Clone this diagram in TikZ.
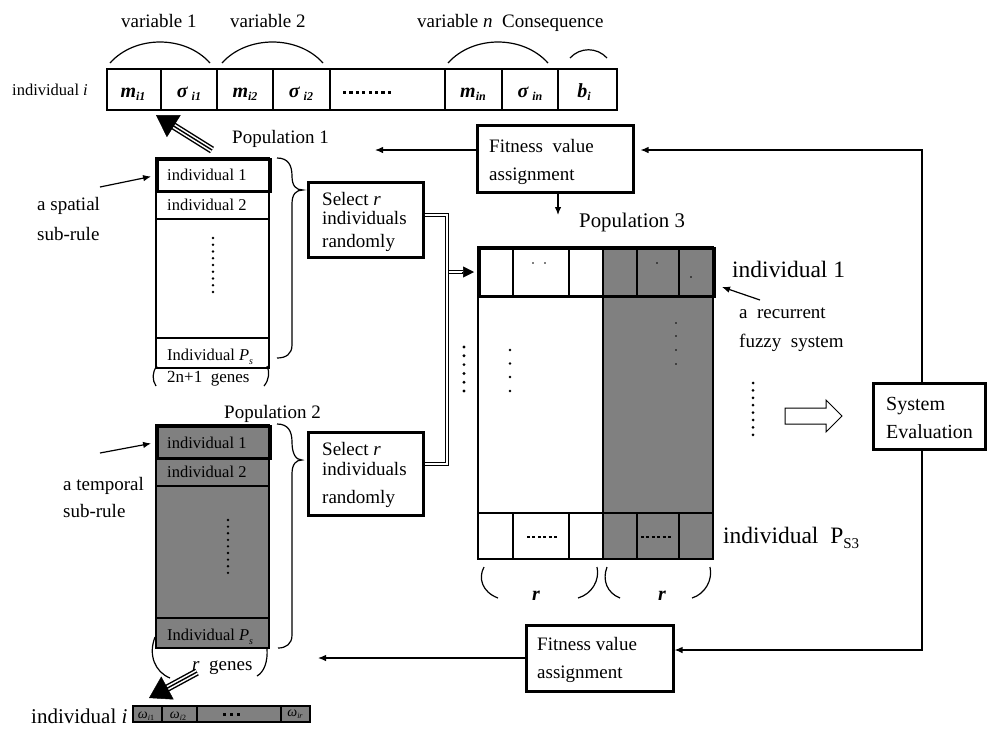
\documentclass[tikz,border=0pt]{standalone}
\usepackage{fontspec}
\setmainfont{Liberation Serif}
\usetikzlibrary{arrows.meta,calc}
\definecolor{popgray}{RGB}{128,128,128}
\newcommand{\fsz}[1]{\fontsize{#1}{#1}\selectfont}
\newcommand{\bit}[1]{{\bfseries\itshape #1}}
\newcommand{\lowsub}[2]{\raisebox{#1}{\fsz{12}\bfseries\itshape #2}}
\begin{document}
\begin{tikzpicture}[x=1pt,y=-1pt,
  lab/.style={anchor=base west,inner sep=0pt,font=\fsz{19}},
  cell/.style={anchor=base west,inner sep=0pt,font=\fsz{16.5}},
  gene/.style={anchor=base,inner sep=0pt,font=\fsz{20}},
  frame/.style={draw,line width=3pt,inner sep=0pt},
  plain/.style={line width=1.2pt},
  arr/.style={line width=1.2pt,-{Latex[length=8pt,width=6.5pt]}},
  dbl/.style={double,double distance=2.4pt,line width=0.9pt},
  bigtip/.style={line width=0.5pt,-{Triangle[length=21pt,width=26pt]}},
]
\useasboundingbox (0,0) rectangle (987,732);

% ---------- chromosome of one spatial sub-rule ----------
\node[lab] (var1) at (121,27) {variable 1};
\node[lab] (var2) at (230,27) {variable 2};
\node[lab] (varn) at (417,27) {variable \textit{n}\ \ Consequence};
\draw[plain] (110,63) .. controls (135,35) and (185,35) .. (210,63);
\draw[plain] (222,63) .. controls (247,35) and (298,35) .. (323,63);
\draw[plain] (448,63) .. controls (473,35) and (523,35) .. (548,63);
\draw[plain] (570,58) .. controls (580,47) and (597,47) .. (607,58);
\node[cell] (chromA) at (12,95) {individual \textit{i}};
\draw[plain] (107,69) rectangle (617,110);
\foreach \x in {161,217,273,330,445,502,558} \draw[plain] (\x,69) -- (\x,110);
\node[gene] (g1) at (133,97) {\bit{m}\lowsub{-3.5pt}{i1}};
\node[gene] (g2) at (189,97) {\bit{σ}\hspace{4pt}\lowsub{-3.5pt}{i1}};
\node[gene] (g3) at (245,97) {\bit{m}\lowsub{-3.5pt}{i2}};
\node[gene] (g4) at (301,97) {\bit{σ}\hspace{4pt}\lowsub{-3.5pt}{i2}};
\foreach \i in {0,...,7} \fill ({343+6.4*\i},91) rectangle ++(3.2,3.4);
\node[gene] (g5) at (473,97) {\bit{m}\lowsub{-3.5pt}{in}};
\node[gene] (g6) at (530,97) {\bit{σ}\hspace{4pt}\lowsub{-3.5pt}{in}};
\node[gene] (g7) at (584,97) {\bit{b}\lowsub{-3.5pt}{i}};

% ---------- population 1 (spatial sub-rules) ----------
\node[lab] (pop1) at (232,143) {Population 1};
\draw[plain] (156,158) rectangle (269,368);
\draw[plain] (156,219) -- (269,219);
\draw[plain] (156,338) -- (269,338);
\node[frame,minimum width=113pt,minimum height=32pt,anchor=north west] (p1i1) at (156,158) {};
\node[cell] (p1t1) at (167,180) {individual 1};
\node[cell] (p1t2) at (167,210) {individual 2};
\node[cell] (p1t3) at (167,360) {Individual \textit{P}\raisebox{-4pt}{\fsz{10}\itshape s}};
\foreach \i in {0,...,8} \fill (213,{238+6.75*\i}) circle (1.3);
\draw[plain] (157,366) .. controls (152,372) and (152,380) .. (156,386);
\draw[plain] (267,366) .. controls (270,372) and (269,380) .. (264,386);
\node[cell,font=\fsz{17}] (p1genes) at (167,382) {2n+1\ \ genes};
\draw[plain] (277,158) .. controls (288,158) and (292,165) .. (292,176)
  .. controls (292,186) and (296,190) .. (303,190)
  .. controls (296,190) and (292,194) .. (292,204) -- (292,345)
  .. controls (292,354) and (286,358) .. (277,358);
\node[lab] (sp1) at (37,210) {a spatial};
\node[lab] (sp2) at (37,240) {sub-rule};
\coordinate (spfrom) at (100,187);
\draw[arr,shorten >=5pt] (spfrom) -- (p1i1.west);

% triple-line arrow from population 1 to the chromosome
\coordinate (t1a) at (212,150);
\coordinate (t1b) at (156,115);
\draw[line width=7.5pt,shorten >=14pt] (t1a) -- (t1b);
\draw[white,line width=4.6pt,shorten >=13pt] (t1a) -- (t1b);
\draw[line width=1.4pt,shorten >=14pt] (t1a) -- (t1b);
\draw[bigtip] ($(t1a)!0.6!(t1b)$) -- (t1b);

% ---------- population 2 (temporal sub-rules) ----------
\node[lab] (pop2) at (224,418) {Population 2};
\fill[popgray] (156,425) rectangle (269,648);
\draw[plain] (156,425) rectangle (269,648);
\draw[plain] (156,486) -- (269,486);
\draw[plain] (156,618) -- (269,618);
\node[frame,minimum width=113pt,minimum height=32pt,anchor=north west] (p2i1) at (156,425) {};
\node[cell] (p2t1) at (167,448) {individual 1};
\node[cell] (p2t2) at (167,477) {individual 2};
\node[cell] (p2t3) at (167,640) {Individual \textit{P}\raisebox{-4pt}{\fsz{10}\itshape s}};
\foreach \i in {0,...,8} \fill (228,{520+6.6*\i}) circle (1.3);
\draw[plain] (277,424) .. controls (288,424) and (292,431) .. (292,442)
  .. controls (292,454) and (296,460) .. (302,460)
  .. controls (296,460) and (292,464) .. (292,474) -- (292,635)
  .. controls (292,644) and (286,648) .. (278,648);
\draw[plain] (155,637) .. controls (148,655) and (155,672) .. (170,678);
\draw[plain] (267,648) .. controls (268,662) and (264,672) .. (257,676);
\node[lab] (p2genes) at (192,670) {\textit{r}\ \ genes};
\node[lab] (tp1) at (63,490) {a temporal};
\node[lab] (tp2) at (63,517) {sub-rule};
\coordinate (tpfrom) at (100,453);
\draw[arr,shorten >=5pt] (tpfrom) -- (p2i1.west);

% triple-line arrow from population 2 to its chromosome
\coordinate (t2a) at (197,672);
\coordinate (t2b) at (149,698);
\draw[line width=7.5pt,shorten >=14pt] (t2a) -- (t2b);
\draw[white,line width=4.6pt,shorten >=13pt] (t2a) -- (t2b);
\draw[line width=1.4pt,shorten >=14pt] (t2a) -- (t2b);
\draw[bigtip] ($(t2a)!0.55!(t2b)$) -- (t2b);

% chromosome of one temporal sub-rule
\node[lab,font=\fsz{21}] (chromB) at (31,723) {individual \textit{i}};
\fill[popgray] (133,706) rectangle (310,722);
\draw[plain] (133,706) rectangle (310,722);
\foreach \x in {162,197,281} \draw[plain] (\x,706) -- (\x,722);
\node[anchor=base,inner sep=0pt,font=\fsz{14}] (w1) at (146,718) {\textit{ω}\raisebox{-2.5pt}{\fsz{8}\textit{i}1}};
\node[anchor=base,inner sep=0pt,font=\fsz{14}] (w2) at (178,718) {\textit{ω}\raisebox{-2.5pt}{\fsz{8}\textit{i}2}};
\foreach \i in {0,1,2} \fill ({223+7*\i},713) rectangle ++(2.6,2.6);
\node[anchor=base,inner sep=0pt,font=\fsz{14}] (wr) at (295,716) {\textit{ω}\raisebox{-2.5pt}{\fsz{8}\textit{ir}}};

% ---------- selection boxes ----------
\node[frame,minimum width=115pt,minimum height=75pt] (sel1) at (365.5,219.5) {};
\node[lab] (s1a) at (322,205) {Select \textit{r}};
\node[lab] (s1b) at (322,224) {individuals};
\node[lab] (s1c) at (322,247) {randomly};
\node[frame,minimum width=115pt,minimum height=83pt] (sel2) at (365.5,473.5) {};
\node[lab] (s2a) at (322,455) {Select \textit{r}};
\node[lab] (s2b) at (322,475) {individuals};
\node[lab] (s2c) at (322,503) {randomly};

% ---------- population 3 (recurrent fuzzy systems) ----------
\node[lab,font=\fsz{20.8}] (pop3) at (579,227) {Population 3};
\fill[popgray] (603,247) rectangle (713,559);
\draw[plain] (478,247) rectangle (713,559);
\draw[plain] (603,247) -- (603,559);
\draw[plain] (478,513) -- (713,513);
\foreach \x in {513,569,637,679} {
  \draw[plain] (\x,247) -- (\x,295);
  \draw[plain] (\x,513) -- (\x,559);
}
\node[frame,minimum width=235pt,minimum height=48pt,anchor=north west] (p3top) at (478,247) {};
\fill (533,263) circle (0.9) (545,263) circle (0.9) (657,263) circle (0.8) (691,277) circle (0.8);
\foreach \y in {350,363.5,377,391} \fill (510,\y) circle (1.4);
\foreach \y in {323,336,350,364} \fill (676,\y) circle (0.8);
\foreach \i in {0,...,5} \fill (464,{347+8.8*\i}) circle (1.6);
\draw[line width=2.6pt,dash pattern=on 3pt off 2.4pt] (527,537) -- (557,537);
\draw[line width=2.6pt,dash pattern=on 3pt off 2.4pt] (641,537) -- (671,537);
\draw[plain] (484,567) .. controls (478,578) and (482,592) .. (498,598);
\draw[plain] (597,567) .. controls (600,580) and (592,594) .. (578,598);
\draw[plain] (607,567) .. controls (602,580) and (607,593) .. (620,598);
\draw[plain] (710,567) .. controls (713,580) and (705,594) .. (692,598);
\node[gene] (r1) at (536,600) {\bit{r}};
\node[gene] (r2) at (662,600) {\bit{r}};
\node[lab,font=\fsz{23.5}] (p3i1) at (732,277) {individual 1};
\node[lab,font=\fsz{23.5}] (p3ip) at (723,543) {individual\ \ P\raisebox{-5pt}{\fsz{15}S3}};
\node[lab] (rc1) at (739,318) {a\ \ recurrent};
\node[lab] (rc2) at (739,347) {fuzzy\ \ system};
\coordinate (rcfrom) at (760,300);
\coordinate (rcto) at (722,287);
\draw[arr] (rcfrom) -- (rcto);
\foreach \i in {0,...,7} \fill (753,{383+7.4*\i}) circle (1.5);

% double-line feed from both selections into population 3
\coordinate (j1) at (447,215);
\coordinate (jm) at (447,272);
\coordinate (j2) at (447,464);
\draw[dbl] (sel1.east |- j1) -- (j1) -- (j2) -- (sel2.east |- j2);
\draw[dbl] ([xshift=1.6pt]jm) -- (463,272);
\draw[line width=0.5pt,-{Triangle[length=11pt,width=11pt]}] (462,272) -- (p3top.west |- jm) [shorten >=4pt];

% ---------- evaluation loop ----------
\node[frame,minimum width=112pt,minimum height=66pt] (sys) at (929,416) {};
\node[lab,font=\fsz{20}] (sy1) at (886,410) {System};
\node[lab,font=\fsz{20}] (sy2) at (886,438) {Evaluation};
\draw[line width=1pt] (785,408) -- (826,408) -- (826,400) -- (842,416) -- (826,432) -- (826,424) -- (785,424) -- cycle;

\node[frame,minimum width=156pt,minimum height=67pt] (fit1) at (555,158.5) {};
\node[lab] (f1a) at (489,152) {Fitness\ \ value};
\node[lab] (f1b) at (489,180) {assignment};
\node[frame,minimum width=147pt,minimum height=66pt] (fit2) at (599.5,658) {};
\node[lab] (f2a) at (537,650) {Fitness value};
\node[lab] (f2b) at (537,678) {assignment};

\coordinate (rt) at (922,150);
\coordinate (rb) at (922,650);
\coordinate (p1end) at (375,150);
\coordinate (p2end) at (318,658);
\coordinate (p3lbl) at (558,215);
\draw[arr,shorten >=6pt] (rt |- sys.north) -- (rt) -- (fit1.east |- rt);
\draw[arr] (rt |- sys.south) -- (rb) -- (fit2.east |- rb);
\draw[arr] (fit1.west |- p1end) -- (p1end);
\draw[arr] (fit1.south -| p3lbl) -- (p3lbl);
\draw[arr] (fit2.west |- p2end) -- (p2end);
\end{tikzpicture}
\end{document}
